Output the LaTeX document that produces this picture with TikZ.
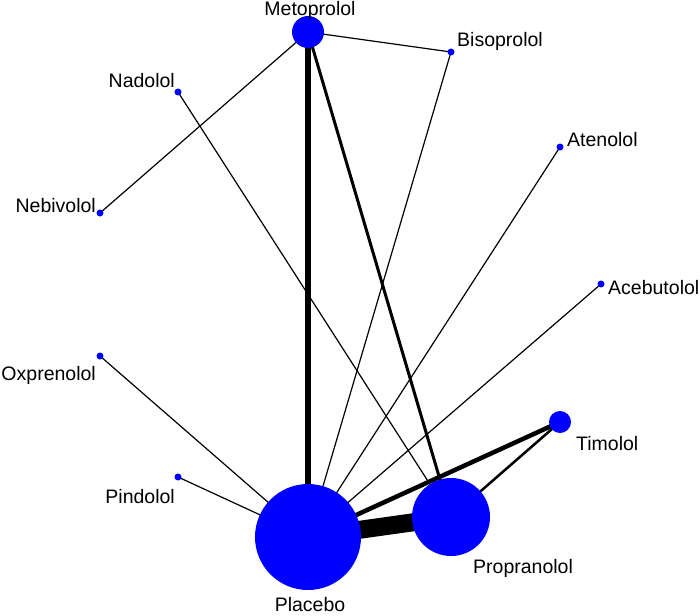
\documentclass[tikz,border=0pt]{standalone}
\usepackage{fontspec}
\setmainfont{Liberation Sans}
\usepackage{tikz}
\usetikzlibrary{backgrounds}

\begin{document}
\begin{tikzpicture}[
    x=1pt, y=-1pt,
    drug/.style={circle, fill=blue, inner sep=0pt, minimum size=#1},
    drug/.default=7pt,
    lbl/.style={font=\fontsize{19.5}{22}\selectfont, inner sep=0pt},
    trial/.style={line width=1.2pt},
]
\useasboundingbox (0,0) rectangle (700,615);

% treatments
\node[drug=32pt] (meto) at (308,32) {};
\node[drug] (biso) at (451,52) {};
\node[drug] (nado) at (178,92) {};
\node[drug] (aten) at (560,147) {};
\node[drug] (nebi) at (100,213) {};
\node[drug] (acebu) at (601,284) {};
\node[drug] (oxpr) at (100,356) {};
\node[drug=22pt] (timo) at (560,422) {};
\node[drug] (pind) at (178,477) {};
\node[drug=106pt] (plac) at (308,537) {};
\node[drug=78pt] (prop) at (451,517) {};

% names
\node[lbl, anchor=base] (metolbl) at (310,16) {Metoprolol};
\node[lbl, anchor=base west] (bisolbl) at (457,47) {Bisoprolol};
\node[lbl, anchor=base east] (nadolbl) at (175,88) {Nadolol};
\node[lbl, anchor=base west] (atenlbl) at (567,146) {Atenolol};
\node[lbl, anchor=base east] (nebilbl) at (96,212) {Nebivolol};
\node[lbl, anchor=base west] (acebulbl) at (608,294) {Acebutolol};
\node[lbl, anchor=base east] (oxprlbl) at (96,380) {Oxprenolol};
\node[lbl, anchor=base west] (timolbl) at (576,450) {Timolol};
\node[lbl, anchor=base east] (pindlbl) at (175,503) {Pindolol};
\node[lbl, anchor=base] (placlbl) at (310,611) {Placebo};
\node[lbl, anchor=base west] (proplbl) at (473,573) {Propranolol};

% comparisons
\begin{pgfonlayer}{background}
\draw[trial] (meto.center) -- (biso.center);
\draw[trial] (meto.center) -- (nebi.center);
\draw[trial] (biso.center) -- (plac.center);
\draw[trial] (nado.center) -- (prop.center);
\draw[trial] (aten.center) -- (plac.center);
\draw[trial] (acebu.center) -- (plac.center);
\draw[trial] (oxpr.center) -- (plac.center);
\draw[trial] (pind.center) -- (plac.center);
\draw[line width=2.5pt] (timo.center) -- (prop.center);
\draw[line width=4.5pt] (timo.center) -- (plac.center);
\draw[line width=3pt] (meto.center) -- (prop.center);
\draw[line width=6.5pt] (meto.center) -- (plac.center);
\draw[line width=18pt] (plac.center) -- (prop.center);
\end{pgfonlayer}

\end{tikzpicture}
\end{document}
